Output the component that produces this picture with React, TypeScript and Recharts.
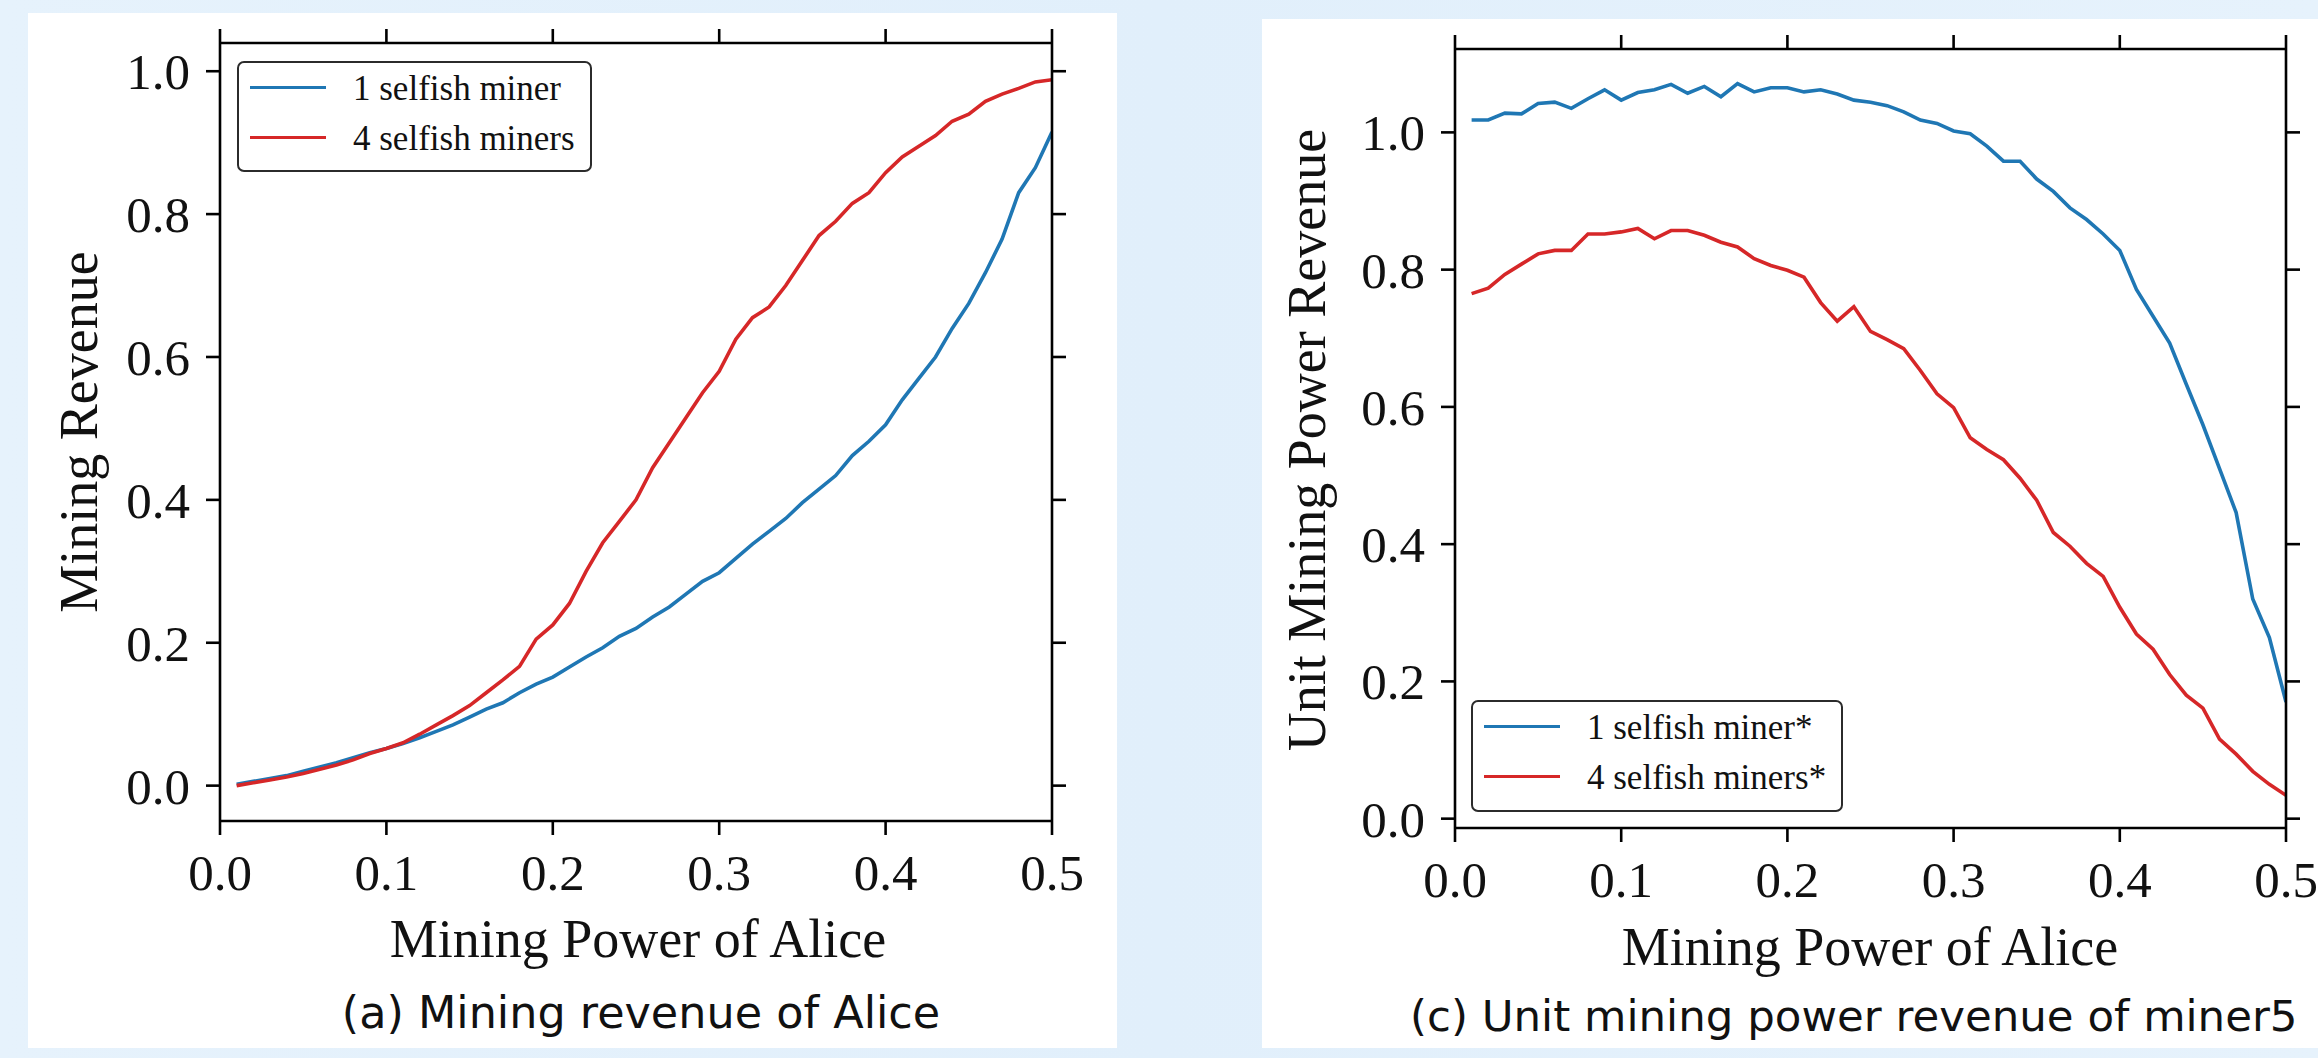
import React from 'react';
import { LineChart, Line, XAxis, YAxis, Legend } from 'recharts';

const miningPower = [
  0.01, 0.02, 0.03, 0.04, 0.05, 0.06, 0.07, 0.08, 0.09, 0.10,
  0.11, 0.12, 0.13, 0.14, 0.15, 0.16, 0.17, 0.18, 0.19, 0.20,
  0.21, 0.22, 0.23, 0.24, 0.25, 0.26, 0.27, 0.28, 0.29, 0.30,
  0.31, 0.32, 0.33, 0.34, 0.35, 0.36, 0.37, 0.38, 0.39, 0.40,
  0.41, 0.42, 0.43, 0.44, 0.45, 0.46, 0.47, 0.48, 0.49, 0.50,
];

const revenueOneMiner = [
  0.002, 0.006, 0.010, 0.014, 0.020, 0.026, 0.032, 0.039, 0.046, 0.052,
  0.059, 0.067, 0.076, 0.085, 0.096, 0.107, 0.116, 0.130, 0.142, 0.152,
  0.166, 0.180, 0.193, 0.209, 0.220, 0.236, 0.250, 0.268, 0.286, 0.298,
  0.318, 0.338, 0.356, 0.374, 0.396, 0.415, 0.434, 0.462, 0.482, 0.505,
  0.540, 0.570, 0.600, 0.640, 0.675, 0.718, 0.765, 0.830, 0.865, 0.915,
];

const revenueFourMiners = [
  0.000, 0.004, 0.008, 0.012, 0.017, 0.023, 0.029, 0.036, 0.045, 0.052,
  0.060, 0.072, 0.085, 0.098, 0.112, 0.130, 0.148, 0.167, 0.205, 0.225,
  0.255, 0.300, 0.340, 0.370, 0.400, 0.445, 0.480, 0.515, 0.550, 0.580,
  0.625, 0.655, 0.670, 0.700, 0.735, 0.770, 0.790, 0.815, 0.830, 0.858,
  0.880, 0.895, 0.910, 0.930, 0.940, 0.958, 0.968, 0.976, 0.985, 0.988,
];

const unitRevenueOneMiner = [
  1.018, 1.018, 1.028, 1.027, 1.042, 1.044, 1.035, 1.049, 1.062, 1.047,
  1.058, 1.062, 1.070, 1.057, 1.067, 1.052, 1.071, 1.059, 1.065, 1.065,
  1.059, 1.062, 1.056, 1.047, 1.044, 1.039, 1.030, 1.018, 1.013, 1.002,
  0.998, 0.980, 0.958, 0.958, 0.932, 0.914, 0.890, 0.873, 0.852, 0.828,
  0.771, 0.732, 0.693, 0.633, 0.574, 0.510, 0.446, 0.320, 0.264, 0.170,
];

const unitRevenueFourMiners = [
  0.765, 0.773, 0.793, 0.808, 0.823, 0.828, 0.828, 0.852, 0.852, 0.855,
  0.860, 0.845, 0.857, 0.857, 0.850, 0.840, 0.833, 0.816, 0.806, 0.799,
  0.789, 0.752, 0.725, 0.746, 0.710, 0.698, 0.685, 0.653, 0.619, 0.599,
  0.555, 0.538, 0.523, 0.496, 0.464, 0.417, 0.397, 0.372, 0.353, 0.308,
  0.269, 0.247, 0.210, 0.180, 0.161, 0.116, 0.094, 0.069, 0.050, 0.034,
];

const xTicks = [0, 0.1, 0.2, 0.3, 0.4, 0.5];
const yTicks = [0, 0.2, 0.4, 0.6, 0.8, 1.0];

const leftNames = ['1 selfish miner', '4 selfish miners'];
const rightNames = ['1 selfish miner*', '4 selfish miners*'];

const BLUE = '#1f77b4';
const RED = '#d62728';
const SERIF = '"Liberation Serif", "Times New Roman", serif';
const SANS = '"DejaVu Sans", Verdana, sans-serif';
const INK = '#111111';

const leftData = miningPower.map((x, i) => ({ x, a: revenueOneMiner[i], b: revenueFourMiners[i] }));
const rightData = miningPower.map((x, i) => ({ x, a: unitRevenueOneMiner[i], b: unitRevenueFourMiners[i] }));

const BottomTick = (props: any) => {
  const { x, y, payload } = props;
  return (
    <text x={x} y={y} dy={55} textAnchor="middle" fontFamily={SERIF} fontSize={51} fill={INK}>
      {Number(payload.value).toFixed(1)}
    </text>
  );
};

const LeftTick = (props: any) => {
  const { x, y, payload } = props;
  return (
    <text x={x} y={y} dx={-16} dy={18} textAnchor="end" fontFamily={SERIF} fontSize={51} fill={INK}>
      {Number(payload.value).toFixed(1)}
    </text>
  );
};

const NoTick = () => null;

const makeLegend = (box: { w: number; h: number }) => (props: any) => {
  const payload = props.payload || [];
  return (
    <div
      style={{
        width: box.w,
        height: box.h,
        boxSizing: 'border-box',
        border: '2.6px solid #2b2b2b',
        borderRadius: 7,
        background: '#ffffff',
        position: 'relative',
      }}
    >
      {payload.map((entry: any, i: number) => (
        <div key={i} style={{ position: 'absolute', left: 0, top: 0 }}>
          <div
            style={{
              position: 'absolute',
              left: 11,
              top: 23 + i * 49.6,
              width: 76,
              height: 3.4,
              background: entry.color,
            }}
          />
          <div
            style={{
              position: 'absolute',
              left: 114,
              top: 3 + i * 49.6,
              fontFamily: SERIF,
              fontSize: 35,
              lineHeight: '45px',
              color: INK,
              whiteSpace: 'nowrap',
            }}
          >
            {entry.value}
          </div>
        </div>
      ))}
    </div>
  );
};

const axisStroke = { stroke: '#000', strokeWidth: 2.6 };

type PanelProps = {
  data: any[];
  names: string[];
  yDomain: [number, number];
  width: number;
  height: number;
  margin: { top: number; right: number; bottom: number; left: number };
  legendPos: { left: number; top: number; w: number; h: number };
};

const Panel = ({ data, names, yDomain, width, height, margin, legendPos }: PanelProps) => (
  <LineChart width={width} height={height} data={data} margin={margin}>
    <XAxis
      xAxisId="bottom"
      dataKey="x"
      type="number"
      domain={[0, 0.5]}
      ticks={xTicks}
      allowDataOverflow
      height={1}
      tickSize={14}
      tickMargin={0}
      axisLine={axisStroke}
      tickLine={axisStroke}
      tick={<BottomTick />}
      interval={0}
    />
    <XAxis
      xAxisId="top"
      orientation="top"
      dataKey="x"
      type="number"
      domain={[0, 0.5]}
      ticks={xTicks}
      allowDataOverflow
      height={1}
      tickSize={14}
      axisLine={axisStroke}
      tickLine={axisStroke}
      tick={<NoTick />}
      interval={0}
    />
    <YAxis
      yAxisId="left"
      type="number"
      domain={yDomain}
      ticks={yTicks}
      allowDataOverflow
      width={1}
      tickSize={14}
      tickMargin={0}
      axisLine={axisStroke}
      tickLine={axisStroke}
      tick={<LeftTick />}
      interval={0}
    />
    <YAxis
      yAxisId="right"
      orientation="right"
      type="number"
      domain={yDomain}
      ticks={yTicks}
      allowDataOverflow
      width={1}
      tickSize={14}
      axisLine={axisStroke}
      tickLine={axisStroke}
      tick={<NoTick />}
      interval={0}
    />
    <Line
      xAxisId="bottom"
      yAxisId="left"
      type="linear"
      dataKey="a"
      name={names[0]}
      stroke={BLUE}
      strokeWidth={3.6}
      dot={false}
      isAnimationActive={false}
    />
    <Line
      xAxisId="bottom"
      yAxisId="left"
      type="linear"
      dataKey="b"
      name={names[1]}
      stroke={RED}
      strokeWidth={3.6}
      dot={false}
      isAnimationActive={false}
    />
    <Legend
      layout="vertical"
      align="center"
      verticalAlign="middle"
      content={makeLegend({ w: legendPos.w, h: legendPos.h })}
      wrapperStyle={{ left: legendPos.left, top: legendPos.top, width: legendPos.w, height: legendPos.h }}
    />
  </LineChart>
);

export default function App() {
  return (
    <div
      style={{
        position: 'absolute',
        left: 0,
        top: 0,
        width: 2318,
        height: 1058,
        overflow: 'hidden',
        background: 'linear-gradient(90deg, #e6f2fc 0%, #e1effb 50%, #e6f2fc 100%)',
      }}
    >
      <div style={{ position: 'absolute', left: 28, top: 13, width: 1089, height: 1035, background: '#ffffff' }} />
      <div style={{ position: 'absolute', left: 1262, top: 19, width: 1056, height: 1029, background: '#ffffff' }} />

      <div style={{ position: 'absolute', left: 0, top: 0 }}>
        <Panel
          data={leftData}
          names={leftNames}
          yDomain={[-0.0495, 1.0395]}
          width={1160}
          height={1058}
          margin={{ top: 42, right: 107, bottom: 236, left: 219 }}
          legendPos={{ left: 237, top: 61, w: 355, h: 111 }}
        />
      </div>
      <div style={{ position: 'absolute', left: 1160, top: 0 }}>
        <Panel
          data={rightData}
          names={rightNames}
          yDomain={[-0.0136, 1.1215]}
          width={1158}
          height={1058}
          margin={{ top: 48, right: 31, bottom: 229, left: 294 }}
          legendPos={{ left: 311, top: 700, w: 372, h: 112 }}
        />
      </div>

      <svg
        width={2318}
        height={1058}
        style={{ position: 'absolute', left: 0, top: 0, pointerEvents: 'none' }}
      >
        <text x={638} y={957} textAnchor="middle" fontFamily={SERIF} fontSize={54} fill={INK}>
          Mining Power of Alice
        </text>
        <text x={1870} y={965} textAnchor="middle" fontFamily={SERIF} fontSize={54} fill={INK}>
          Mining Power of Alice
        </text>
        <text
          x={97}
          y={432}
          textAnchor="middle"
          fontFamily={SERIF}
          fontSize={54}
          fill={INK}
          transform="rotate(-90 97 432)"
        >
          Mining Revenue
        </text>
        <text
          x={1325}
          y={440}
          textAnchor="middle"
          fontFamily={SERIF}
          fontSize={54}
          fill={INK}
          transform="rotate(-90 1325 440)"
        >
          Unit Mining Power Revenue
        </text>
        <text x={641} y={1028} textAnchor="middle" fontFamily={SANS} fontSize={44.5} fill={INK}>
          (a) Mining revenue of Alice
        </text>
        <text x={1410} y={1031} textAnchor="start" fontFamily={SANS} fontSize={43.5} fill={INK}>
          (c) Unit mining power revenue of miner5
        </text>
      </svg>
    </div>
  );
}
